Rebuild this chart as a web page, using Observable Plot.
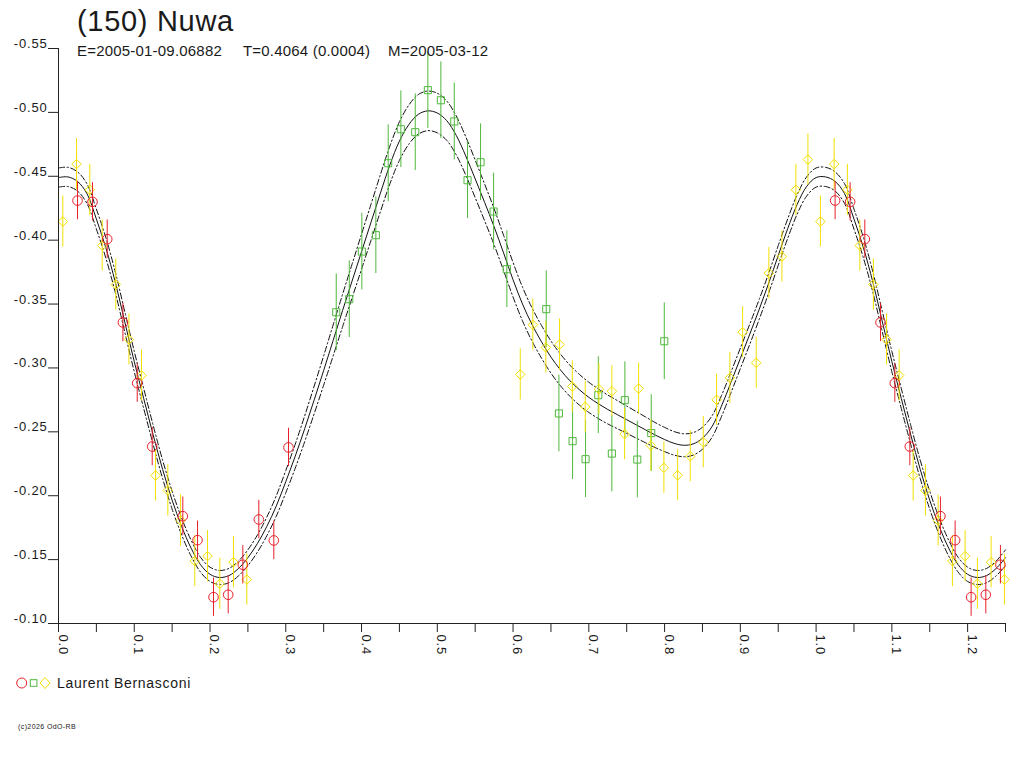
<!DOCTYPE html>
<html><head><meta charset="utf-8">
<script src="https://cdn.jsdelivr.net/npm/d3@7"></script>
<script src="https://cdn.jsdelivr.net/npm/@observablehq/plot@0.6"></script>
<style>
body{margin:0;background:#fff;}
#wrap{position:relative;width:1024px;height:768px;font-family:"Liberation Sans",Arial,sans-serif;color:#1a1a1a;overflow:hidden;}
#chart{position:absolute;left:0;top:0;}
#chart svg text{letter-spacing:0.8px;}
.abs{position:absolute;white-space:pre;line-height:1;}
</style></head><body>
<div id="wrap">
  <div id="chart"></div>
  <div class="abs" style="left:77px;top:7px;font-size:29px;letter-spacing:0.7px;">(150) Nuwa</div>
  <div class="abs" style="left:77px;top:42.5px;font-size:15px;letter-spacing:0.2px;">E=2005-01-09.06882</div>
  <div class="abs" style="left:243px;top:42.5px;font-size:15px;letter-spacing:0.2px;">T=0.4064 (0.0004)</div>
  <div class="abs" style="left:388px;top:42.5px;font-size:15px;letter-spacing:0.2px;">M=2005-03-12</div>
  <svg class="abs" style="left:14px;top:675px" width="40" height="16">
    <circle cx="7.7" cy="8" r="5" fill="none" stroke="#e8202a" stroke-width="1"/>
    <rect x="16.3" y="4.7" width="6.6" height="6.6" fill="none" stroke="#4fb83c" stroke-width="1"/>
    <polygon points="31,2.5 36,8 31,13.5 26,8" fill="none" stroke="#f2e000" stroke-width="1"/>
  </svg>
  <div class="abs" style="left:57px;top:676px;font-size:14px;letter-spacing:0.7px;">Laurent Bernasconi</div>
  <div class="abs" style="left:18px;top:723px;font-size:7px;letter-spacing:0.4px;">(c)2026 OdO-RB</div>
</div>
<script>
// ---- Observations (phase, reduced magnitude, error) ----
const redPhase = [0.0251, 0.0449, 0.0643, 0.0850, 0.1039, 0.1237, 0.1641, 0.1835, 0.2046, 0.2240, 0.2433, 0.2644, 0.2842, 0.3036];
const redMag   = [-0.4310, -0.4300, -0.4008, -0.3356, -0.2881, -0.2385, -0.1840, -0.1652, -0.1206, -0.1225, -0.1460, -0.1814, -0.1650, -0.2378];
const redErr   = [0.015, 0.015, 0.015, 0.015, 0.015, 0.015, 0.015, 0.015, 0.015, 0.015, 0.015, 0.015, 0.015, 0.015];

const greenPhase = [0.3666, 0.3838, 0.4004, 0.4189, 0.4352, 0.4519, 0.4709, 0.4875, 0.5047, 0.5224, 0.5399, 0.5571, 0.5743, 0.5918, 0.6438, 0.6605, 0.6786, 0.6957, 0.7125, 0.7304, 0.7476, 0.7640, 0.7824, 0.7996];
const greenMag   = [-0.3436, -0.3538, -0.3911, -0.4039, -0.4602, -0.4868, -0.4845, -0.5174, -0.5095, -0.4929, -0.4469, -0.4610, -0.4224, -0.3773, -0.3460, -0.2644, -0.2427, -0.2286, -0.2787, -0.2330, -0.2748, -0.2283, -0.2490, -0.3209];
const greenErr   = [0.03, 0.03, 0.03, 0.03, 0.03, 0.03, 0.03, 0.03, 0.03, 0.03, 0.03, 0.03, 0.03, 0.03, 0.03, 0.03, 0.03, 0.03, 0.03, 0.03, 0.03, 0.03, 0.03, 0.03];

const yellowPhase = [0.0057, 0.0238, 0.0413, 0.0577, 0.0756, 0.0930, 0.1096, 0.1281, 0.1443, 0.1611, 0.1799, 0.1967, 0.2129, 0.2310, 0.2486, 0.6095, 0.6261, 0.6433, 0.6614, 0.6782, 0.6953, 0.7133, 0.7304, 0.7472, 0.7657, 0.7819, 0.7991, 0.8172, 0.8339, 0.8511, 0.8686, 0.8862, 0.9030, 0.9210, 0.9377, 0.9549, 0.9733, 0.9892];
const yellowMag   = [-0.4146, -0.4595, -0.4394, -0.3958, -0.3653, -0.3223, -0.2941, -0.2158, -0.2041, -0.1806, -0.1488, -0.1527, -0.1311, -0.1480, -0.1344, -0.2949, -0.3338, -0.3160, -0.3183, -0.2855, -0.2696, -0.2834, -0.2818, -0.2482, -0.2839, -0.2393, -0.2219, -0.2160, -0.2309, -0.2419, -0.2751, -0.2923, -0.3280, -0.3040, -0.3742, -0.3872, -0.4394, -0.4631];
const yellowErr   = [0.02, 0.02, 0.02, 0.02, 0.02, 0.02, 0.02, 0.02, 0.02, 0.02, 0.02, 0.02, 0.02, 0.02, 0.02, 0.02, 0.02, 0.02, 0.02, 0.02, 0.02, 0.02, 0.02, 0.02, 0.02, 0.02, 0.02, 0.02, 0.02, 0.02, 0.02, 0.02, 0.02, 0.02, 0.02, 0.02, 0.02, 0.02];

// ---- Fitted light curve ----
const curvePhase = [0.0000,0.0125,0.0250,0.0375,0.0500,0.0625,0.0750,0.0875,0.1000,0.1125,0.1250,0.1375,0.1500,0.1625,0.1750,0.1875,0.2000,0.2125,0.2250,0.2375,0.2500,0.2625,0.2750,0.2875,0.3000,0.3125,0.3250,0.3375,0.3500,0.3625,0.3750,0.3875,0.4000,0.4125,0.4250,0.4375,0.4500,0.4625,0.4750,0.4875,0.5000,0.5125,0.5250,0.5375,0.5500,0.5625,0.5750,0.5875,0.6000,0.6125,0.6250,0.6375,0.6500,0.6625,0.6750,0.6875,0.7000,0.7125,0.7250,0.7375,0.7500,0.7625,0.7750,0.7875,0.8000,0.8125,0.8250,0.8375,0.8500,0.8625,0.8750,0.8875,0.9000,0.9125,0.9250,0.9375,0.9500,0.9625,0.9750,0.9875,1.0000];
const curveMag = [-0.4490,-0.4495,-0.4460,-0.4365,-0.4165,-0.3940,-0.3670,-0.3360,-0.3050,-0.2760,-0.2475,-0.2205,-0.1965,-0.1760,-0.1590,-0.1460,-0.1385,-0.1360,-0.1375,-0.1430,-0.1515,-0.1625,-0.1760,-0.1920,-0.2110,-0.2310,-0.2525,-0.2750,-0.2980,-0.3215,-0.3450,-0.3680,-0.3910,-0.4140,-0.4370,-0.4590,-0.4775,-0.4905,-0.4985,-0.5012,-0.4995,-0.4935,-0.4820,-0.4660,-0.4480,-0.4295,-0.4105,-0.3900,-0.3690,-0.3500,-0.3340,-0.3205,-0.3085,-0.2985,-0.2900,-0.2830,-0.2770,-0.2720,-0.2675,-0.2635,-0.2595,-0.2555,-0.2515,-0.2475,-0.2440,-0.2410,-0.2395,-0.2405,-0.2450,-0.2540,-0.2700,-0.2885,-0.3075,-0.3265,-0.3460,-0.3665,-0.3880,-0.4090,-0.4280,-0.4420,-0.4490];
const curveHalf = [0.0075,0.0075,0.0075,0.0077,0.0078,0.0080,0.0080,0.0080,0.0080,0.0078,0.0075,0.0072,0.0070,0.0066,0.0062,0.0058,0.0056,0.0055,0.0056,0.0058,0.0062,0.0067,0.0073,0.0080,0.0087,0.0094,0.0101,0.0108,0.0115,0.0121,0.0127,0.0132,0.0137,0.0141,0.0145,0.0148,0.0151,0.0153,0.0155,0.0155,0.0155,0.0154,0.0152,0.0150,0.0147,0.0144,0.0141,0.0138,0.0135,0.0132,0.0130,0.0128,0.0126,0.0124,0.0122,0.0120,0.0118,0.0116,0.0113,0.0110,0.0107,0.0104,0.0101,0.0098,0.0095,0.0092,0.0090,0.0088,0.0086,0.0084,0.0082,0.0081,0.0080,0.0079,0.0078,0.0077,0.0077,0.0076,0.0076,0.0075,0.0075];

// ---- Axis ticks ----
const yTicks = [-0.55, -0.50, -0.45, -0.40, -0.35, -0.30, -0.25, -0.20, -0.15, -0.10];
const xTicks = [0, 0.05, 0.1, 0.15, 0.2, 0.25, 0.3, 0.35, 0.4, 0.45, 0.5, 0.55, 0.6, 0.65, 0.7, 0.75, 0.8, 0.85, 0.9, 0.95, 1.0, 1.05, 1.1, 1.15, 1.2, 1.25];
const xLabels = [0, 0.1, 0.2, 0.3, 0.4, 0.5, 0.6, 0.7, 0.8, 0.9, 1.0, 1.1, 1.2];

const RED = "#e8202a", GREEN = "#4fb83c", YELLOW = "#f2e000";

// phase-folded: points with phase < 0.25 are repeated after phase 1
function series(ph, mg, er) {
  const a = ph.map((p, i) => ({phase: p, mag: mg[i], err: er[i]}));
  return a.concat(a.filter(d => d.phase < 0.25).map(d => ({...d, phase: d.phase + 1})));
}
const red = series(redPhase, redMag, redErr);
const green = series(greenPhase, greenMag, greenErr);
const yellow = series(yellowPhase, yellowMag, yellowErr);

const base = curvePhase.map((p, i) => ({phase: p, mag: curveMag[i], half: curveHalf[i]}));
const curve = base.concat(base.filter(d => d.phase > 0 && d.phase <= 0.25).map(d => ({...d, phase: d.phase + 1})));

function bars(data, color) {
  return Plot.ruleX(data, {x: "phase", y1: d => d.mag - d.err, y2: d => d.mag + d.err, stroke: color, strokeWidth: 1});
}

const chart = Plot.plot({
  width: 1024,
  height: 660,
  marginLeft: 58,
  marginRight: 19,
  marginTop: 48,
  marginBottom: 37,
  style: {fontFamily: "'Liberation Sans', Arial, sans-serif", fontSize: "13px", color: "#1a1a1a", background: "transparent"},
  x: {domain: [0, 1.25], axis: null, label: null},
  y: {domain: [-0.10, -0.55], axis: null, label: null},
  marks: [
    Plot.line(curve, {x: "phase", y: "mag", stroke: "#111", strokeWidth: 1, curve: "catmull-rom"}),
    Plot.line(curve, {x: "phase", y: d => d.mag - d.half, stroke: "#111", strokeWidth: 1, strokeDasharray: "6,2.5,1.5,2.5", curve: "catmull-rom"}),
    Plot.line(curve, {x: "phase", y: d => d.mag + d.half, stroke: "#111", strokeWidth: 1, strokeDasharray: "6,2.5,1.5,2.5", curve: "catmull-rom"}),
    bars(green, GREEN),
    Plot.dot(green, {x: "phase", y: "mag", symbol: "square", r: 4, stroke: GREEN, fill: "none", strokeWidth: 1}),
    bars(yellow, YELLOW),
    Plot.dot(yellow, {x: "phase", y: "mag", symbol: "diamond2", r: 4.3, stroke: YELLOW, fill: "none", strokeWidth: 1}),
    bars(red, RED),
    Plot.dot(red, {x: "phase", y: "mag", symbol: "circle", r: 4.8, stroke: RED, fill: "none", strokeWidth: 1}),
    Plot.ruleX([0], {stroke: "#222"}),
    Plot.ruleY([-0.10], {stroke: "#222"}),
    Plot.axisY(yTicks, {anchor: "left", tickSize: 10, tickFormat: () => "", label: null, stroke: "#222"}),
    Plot.axisX(xTicks, {anchor: "bottom", tickSize: 9, tickFormat: () => "", label: null, stroke: "#222"}),
    Plot.text(yTicks, {y: d => d, text: d => d.toFixed(2), frameAnchor: "left", textAnchor: "end", lineAnchor: "bottom", dx: -11, dy: -0.5, fill: "#1a1a1a", fontSize: 13}),
    Plot.text(xLabels, {x: d => d, text: d => d.toFixed(1), frameAnchor: "bottom", rotate: 90, textAnchor: "start", lineAnchor: "bottom", dy: 11, dx: 0, fill: "#1a1a1a", fontSize: 13})
  ]
});
document.getElementById("chart").appendChild(chart);
</script>
</body></html>
